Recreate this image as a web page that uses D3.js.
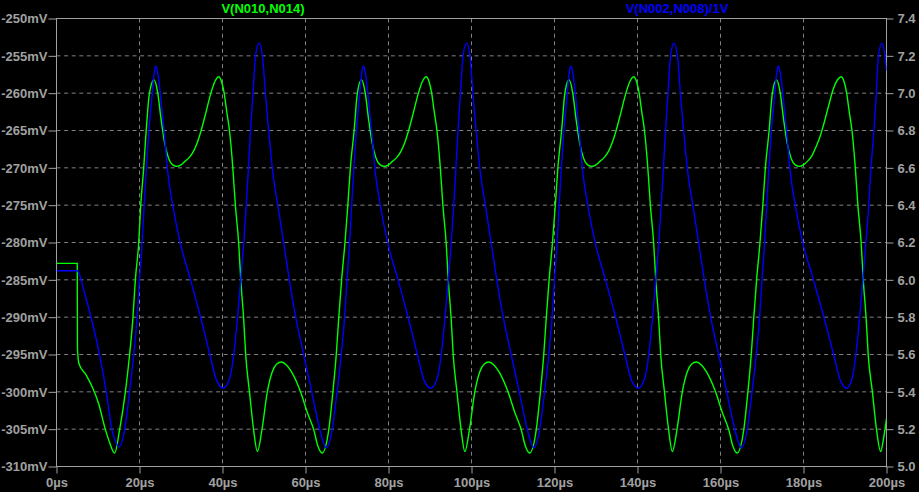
<!DOCTYPE html>
<html><head><meta charset="utf-8">
<script src="https://cdn.jsdelivr.net/npm/d3@7"></script>
<style>
body{margin:0;background:#000;}
svg{display:block;background:#000;}
text{font-family:"Liberation Sans",Arial,sans-serif;font-weight:bold;font-size:13px;}
</style>
</head><body><svg id="c" width="919" height="492"></svg>
<script>
const xTicks=[0,20,40,60,80,100,120,140,160,180,200];
const leftTicks=[-310,-305,-300,-295,-290,-285,-280,-275,-270,-265,-260,-255,-250];
const rightTicks=[5.0,5.2,5.4,5.6,5.8,6.0,6.2,6.4,6.6,6.8,7.0,7.2,7.4];
const greenName="V(N010,N014)";
const blueName="V(N002,N008)/1V";

// V(N010,N014) in mV, [time µs, value]
const greenPoints=[
[0,-282.8],[5,-282.8],[5.05,-294.2],[5.4,-296.2],[7.2,-297.8],[8.8,-299.6],[10.1,-301.5],[11.8,-305.1],[12.8,-306.8],[14,-308.2],
[15.2,-305.1],[16.6,-300],[17.6,-295.1],[18.4,-290.2],[19,-285],[19.8,-280.1],[20.3,-275],[21,-270.1],[21.6,-265.1],[22.4,-260],[23.5,-258.2],
[24.4,-260],[25.2,-263.5],[26,-266.5],[27,-268.7],[28,-269.6],[29,-269.8],[30,-269.6],[31,-269.1],[32,-268.6],[33,-267.8],
[34,-266.5],[34.8,-265.1],[36,-262.6],[37.2,-260],[38.2,-258.4],[39.1,-257.8],[39.8,-258.5],[40.4,-260],[41,-262.4],[41.7,-265.1],
[42.5,-270.1],[43.1,-275],[43.9,-280.1],[44.4,-285],[45.1,-290.2],[45.6,-295.1],[46.5,-300],[47.5,-305.1],[48.4,-308],[49.5,-305.1],
[50.8,-300],[52,-297.3],[53,-296.3],[54.2,-296],[55.4,-296.4],[56.6,-297.3],[58.8,-300],[60.4,-302.7],[62,-305.1],[63,-307.3],
[64,-308.2],[65.6,-305.1],[66.6,-300],[67.4,-295.1],[68,-290.2],[68.7,-285],[69.5,-280.1],[70.2,-275],[70.8,-270.1],[71.7,-265.1],
[72.5,-260],[73.5,-258.2],
[74.4,-260],[75.2,-263.5],[76,-266.5],[77,-268.7],[78,-269.6],[79,-269.8],[80,-269.6],[81,-269.1],[82,-268.6],[83,-267.8],
[84,-266.5],[84.8,-265.1],[86,-262.6],[87.2,-260],[88.2,-258.4],[89.1,-257.8],[89.8,-258.5],[90.4,-260],[91,-262.4],[91.7,-265.1],
[92.5,-270.1],[93.1,-275],[93.9,-280.1],[94.4,-285],[95.1,-290.2],[95.6,-295.1],[96.5,-300],[97.5,-305.1],[98.4,-308],[99.5,-305.1],
[100.8,-300],[102,-297.3],[103,-296.3],[104.2,-296],[105.4,-296.4],[106.6,-297.3],[108.8,-300],[110.4,-302.7],[112,-305.1],[113,-307.3],
[114,-308.2],[115.6,-305.1],[116.6,-300],[117.4,-295.1],[118,-290.2],[118.7,-285],[119.5,-280.1],[120.2,-275],[120.8,-270.1],[121.7,-265.1],
[122.5,-260],[123.5,-258.2],
[124.4,-260],[125.2,-263.5],[126,-266.5],[127,-268.7],[128,-269.6],[129,-269.8],[130,-269.6],[131,-269.1],[132,-268.6],[133,-267.8],
[134,-266.5],[134.8,-265.1],[136,-262.6],[137.2,-260],[138.2,-258.4],[139.1,-257.8],[139.8,-258.5],[140.4,-260],[141,-262.4],[141.7,-265.1],
[142.5,-270.1],[143.1,-275],[143.9,-280.1],[144.4,-285],[145.1,-290.2],[145.6,-295.1],[146.5,-300],[147.5,-305.1],[148.4,-308],[149.5,-305.1],
[150.8,-300],[152,-297.3],[153,-296.3],[154.2,-296],[155.4,-296.4],[156.6,-297.3],[158.8,-300],[160.4,-302.7],[162,-305.1],[163,-307.3],
[164,-308.2],[165.6,-305.1],[166.6,-300],[167.4,-295.1],[168,-290.2],[168.7,-285],[169.5,-280.1],[170.2,-275],[170.8,-270.1],[171.7,-265.1],
[172.5,-260],[173.5,-258.2],
[174.4,-260],[175.2,-263.5],[176,-266.5],[177,-268.7],[178,-269.6],[179,-269.8],[180,-269.6],[181,-269.1],[182,-268.4],[183,-267.2],
[184,-265.8],[184.8,-264.3],[186,-261.8],[187.2,-259.4],[188.2,-258.2],[189.1,-257.8],[189.8,-258.5],[190.4,-260],[191,-262.4],[191.7,-265.1],
[192.5,-270.1],[193.1,-275],[193.9,-280.1],[194.4,-285],[195.1,-290.2],[195.6,-295.1],[196.6,-300],[197.6,-305.1],[198.6,-308],[199.3,-306.2],
[200,-303.6]
];

// V(N002,N008)/1V in V, [time µs, value]
const bluePoints=[
[0,6.049],[5,6.049],[5.6,6.025],[6.5,5.95],[8.4,5.793],[10.4,5.596],[12,5.4],[13.4,5.194],[14.3,5.13],[15,5.105],
[16.4,5.194],[17.6,5.4],[18.6,5.596],[19.4,5.793],[20,6],[20.6,6.19],[21.1,6.39],[21.6,6.58],[22.2,6.78],[23,6.98],
[23.5,7.1],[23.9,7.146],[24.4,7.11],[25.1,6.98],[26,6.78],[26.8,6.58],[28.1,6.39],[29.9,6.19],[32.3,6],[34.8,5.793],
[37,5.596],[38.6,5.46],[40.2,5.42],[41.7,5.47],[42.7,5.596],[43.6,5.793],[44.4,6],[45.1,6.19],[45.7,6.39],[46.2,6.58],
[46.7,6.78],[47.3,6.98],[48,7.205],[48.8,7.268],[49.6,7.205],[50.4,6.98],[51.2,6.78],[52.1,6.58],[53.4,6.39],[54.8,6.19],
[56.1,6],[57.7,5.793],[59.6,5.596],[61.5,5.4],[63.5,5.194],[64.3,5.13],[65,5.1],
[66.4,5.194],[67.6,5.4],[68.6,5.596],[69.4,5.793],[70,6],[70.6,6.19],[71.1,6.39],[71.6,6.58],[72.2,6.78],[73,6.98],
[73.5,7.1],[73.9,7.146],[74.4,7.11],[75.1,6.98],[76,6.78],[76.8,6.58],[78.1,6.39],[79.9,6.19],[82.3,6],[84.8,5.793],
[87,5.596],[88.6,5.46],[90.2,5.42],[91.7,5.47],[92.7,5.596],[93.6,5.793],[94.4,6],[95.1,6.19],[95.7,6.39],[96.2,6.58],
[96.7,6.78],[97.3,6.98],[98,7.205],[98.8,7.268],[99.6,7.205],[100.4,6.98],[101.2,6.78],[102.1,6.58],[103.4,6.39],[104.8,6.19],
[106.1,6],[107.7,5.793],[109.6,5.596],[111.5,5.4],[113.5,5.194],[114.3,5.13],[115,5.1],
[116.4,5.194],[117.6,5.4],[118.6,5.596],[119.4,5.793],[120,6],[120.6,6.19],[121.1,6.39],[121.6,6.58],[122.2,6.78],[123,6.98],
[123.5,7.1],[123.9,7.146],[124.4,7.11],[125.1,6.98],[126,6.78],[126.8,6.58],[128.1,6.39],[129.9,6.19],[132.3,6],[134.8,5.793],
[137,5.596],[138.6,5.46],[140.2,5.42],[141.7,5.47],[142.7,5.596],[143.6,5.793],[144.4,6],[145.1,6.19],[145.7,6.39],[146.2,6.58],
[146.7,6.78],[147.3,6.98],[148,7.205],[148.8,7.268],[149.6,7.205],[150.4,6.98],[151.2,6.78],[152.1,6.58],[153.4,6.39],[154.8,6.19],
[156.1,6],[157.7,5.793],[159.6,5.596],[161.5,5.4],[163.5,5.194],[164.3,5.13],[165,5.1],
[166.4,5.194],[167.6,5.4],[168.6,5.596],[169.4,5.793],[170,6],[170.6,6.19],[171.1,6.39],[171.6,6.58],[172.2,6.78],[173,6.98],
[173.5,7.1],[173.9,7.146],[174.4,7.11],[175.1,6.98],[176,6.78],[176.8,6.58],[178.1,6.39],[179.7,6.21],[182.4,6],[185,5.793],
[187.3,5.596],[188.9,5.46],[190.4,5.42],[191.7,5.47],[192.6,5.596],[193.5,5.793],[194.3,6],[195,6.19],[195.7,6.39],[196.2,6.58],
[196.9,6.78],[197.5,6.98],[198.1,7.205],[198.9,7.268],[199.6,7.205],[200,7.12]
];

const svg=d3.select("#c");
const L=56.5,R=886.5,T=18.5,B=466.5;
const x=d3.scaleLinear().domain([0,200]).range([L,R]);
const yL=d3.scaleLinear().domain([-310,-250]).range([B,T]);
const yR=d3.scaleLinear().domain([5.0,7.4]).range([B,T]);
const axisCol="#a0a0a0", gridCol="#808080";

// grid
const g=svg.append("g");
g.selectAll(".vg").data(xTicks.filter(d=>d>0&&d<200)).join("line")
 .attr("x1",d=>x(d)).attr("x2",d=>x(d)).attr("y1",T).attr("y2",B)
 .attr("stroke",gridCol).attr("stroke-dasharray","4,3.6");
g.selectAll(".hg").data(leftTicks.filter(d=>d>-310&&d<-250)).join("line")
 .attr("x1",L).attr("x2",R).attr("y1",d=>yL(d)).attr("y2",d=>yL(d))
 .attr("stroke",gridCol).attr("stroke-dasharray","4,3.6");

// axes
function styleAxis(sel){
  sel.select(".domain").remove();
  sel.selectAll(".tick line").attr("stroke",axisCol);
  sel.selectAll(".tick text").attr("fill",axisCol).style("font-size","13px").style("font-family",'"Liberation Sans",Arial,sans-serif').style("font-weight","bold");
}
svg.append("g").attr("transform",`translate(${L},0)`)
 .call(d3.axisLeft(yL).tickValues(leftTicks).tickSize(8).tickPadding(1).tickFormat(d=>d+"mV"))
 .call(styleAxis);
svg.append("g").attr("transform",`translate(${R},0)`)
 .call(d3.axisRight(yR).tickValues(rightTicks).tickSize(7).tickPadding(4).tickFormat(d3.format(".1f")))
 .call(styleAxis);
svg.append("g").attr("transform",`translate(0,${B})`)
 .call(d3.axisBottom(x).tickValues(xTicks).tickSize(7).tickPadding(4).tickFormat(d=>d+"µs"))
 .call(styleAxis);

// frame
svg.append("rect").attr("x",L).attr("y",T).attr("width",R-L).attr("height",B-T)
 .attr("fill","none").attr("stroke",axisCol);

// traces
svg.append("clipPath").attr("id","clp").append("rect").attr("x",L).attr("y",T-3).attr("width",R-L).attr("height",B-T+6);
const lineG=d3.line().x(d=>x(d[0])).y(d=>yL(d[1])).curve(d3.curveMonotoneX);
const lineB=d3.line().x(d=>x(d[0])).y(d=>yR(d[1])).curve(d3.curveMonotoneX);
svg.append("path").datum(greenPoints).attr("d",lineG).attr("fill","none").attr("stroke","#00ff00").attr("stroke-width",1.4).attr("clip-path","url(#clp)");
svg.append("path").datum(bluePoints).attr("d",lineB).attr("fill","none").attr("stroke","#0000ff").attr("stroke-width",1.4).attr("clip-path","url(#clp)");

// legends
svg.append("text").attr("x",263).attr("y",13).attr("text-anchor","middle").attr("fill","#00ff00").text(greenName);
svg.append("text").attr("x",677).attr("y",13).attr("text-anchor","middle").attr("fill","#0000ff").text(blueName);
</script>
</body></html>
